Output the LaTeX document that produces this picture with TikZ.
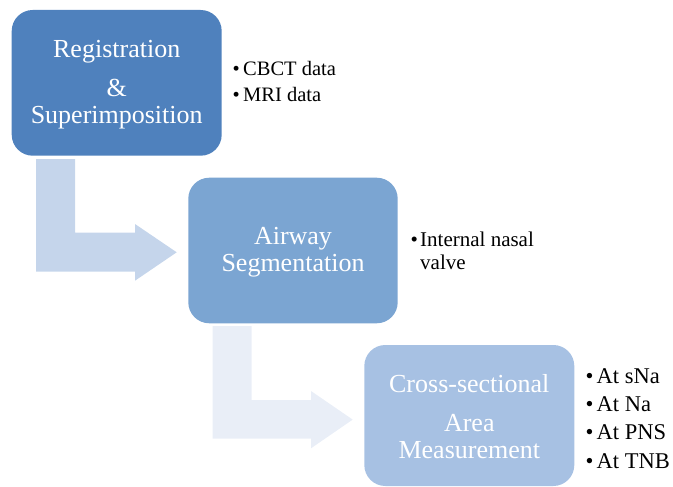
\documentclass[tikz,border=0pt]{standalone}
\usepackage{fontspec}
\setmainfont{Liberation Serif}
\definecolor{boxA}{RGB}{79,129,189}
\definecolor{boxB}{RGB}{123,165,210}
\definecolor{boxC}{RGB}{167,193,227}
\definecolor{arrA}{RGB}{197,213,235}
\definecolor{arrB}{RGB}{233,238,247}
\tikzset{
  stagebox/.style={rounded corners=21pt, inner sep=0pt, draw=none},
  boxtext/.style={anchor=base, inner sep=0pt, text=white, font=\fontsize{26}{27}\selectfont},
  sidetext/.style={anchor=base west, inner sep=0pt, text=black},
}
\begin{document}
\begin{tikzpicture}[x=1pt,y=-1pt]
\useasboundingbox (0,0) rectangle (673,487);
% arrows
\fill[arrA] (36,159) -- (75,159) -- (75,232.7) -- (135,232.7) -- (135,224) -- (176.7,252.3) -- (135,280.7) -- (135,271.7) -- (36,271.7) -- cycle;
\fill[arrB] (212.7,326) -- (251.7,326) -- (251.7,400) -- (311,400) -- (311,391) -- (352.7,419.6) -- (311,448.3) -- (311,438.6) -- (212.7,438.6) -- cycle;
% boxes
\fill[boxA, stagebox] (11.7,10) rectangle (221.7,155.7);
\fill[boxB, stagebox] (188.3,177.7) rectangle (397.7,323.3);
\fill[boxC, stagebox] (364.3,345) rectangle (574.3,486);
% box texts
\node[boxtext] (t1a) at (116.7,57.3) {Registration};
\node[boxtext] (t1b) at (116.7,96.7) {\&};
\node[boxtext] (t1c) at (116.7,123.3) {Superimposition};
\node[boxtext] (t2a) at (293,244.3) {Airway};
\node[boxtext] (t2b) at (293,271.7) {Segmentation};
\node[boxtext] (t3a) at (469.3,392.7) {Cross-sectional};
\node[boxtext] (t3b) at (469.3,431) {Area};
\node[boxtext] (t3c) at (469.3,458.3) {Measurement};
% side texts
\begin{scope}[every node/.append style={font=\fontsize{20.5}{22}\selectfont}]
\node[sidetext] (s1a) at (232.5,76) {\makebox[10.5pt][l]{•}CBCT data};
\node[sidetext] (s1b) at (232.5,101.7) {\makebox[10.5pt][l]{•}MRI data};
\end{scope}
\begin{scope}[every node/.append style={font=\fontsize{21}{22}\selectfont}]
\node[sidetext] (s2a) at (410.5,246.7) {\makebox[9.5pt][l]{•}Internal nasal};
\node[sidetext] (s2b) at (420,269) {valve};
\end{scope}
\begin{scope}[every node/.append style={font=\fontsize{22.5}{24}\selectfont}]
\node[sidetext] (s3a) at (585.5,383.3) {\makebox[11pt][l]{•}At sNa};
\node[sidetext] (s3b) at (585.5,411) {\makebox[11pt][l]{•}At Na};
\node[sidetext] (s3c) at (585.5,439.5) {\makebox[11pt][l]{•}At PNS};
\node[sidetext] (s3d) at (585.5,468) {\makebox[11pt][l]{•}At TNB};
\end{scope}
\end{tikzpicture}
\end{document}
